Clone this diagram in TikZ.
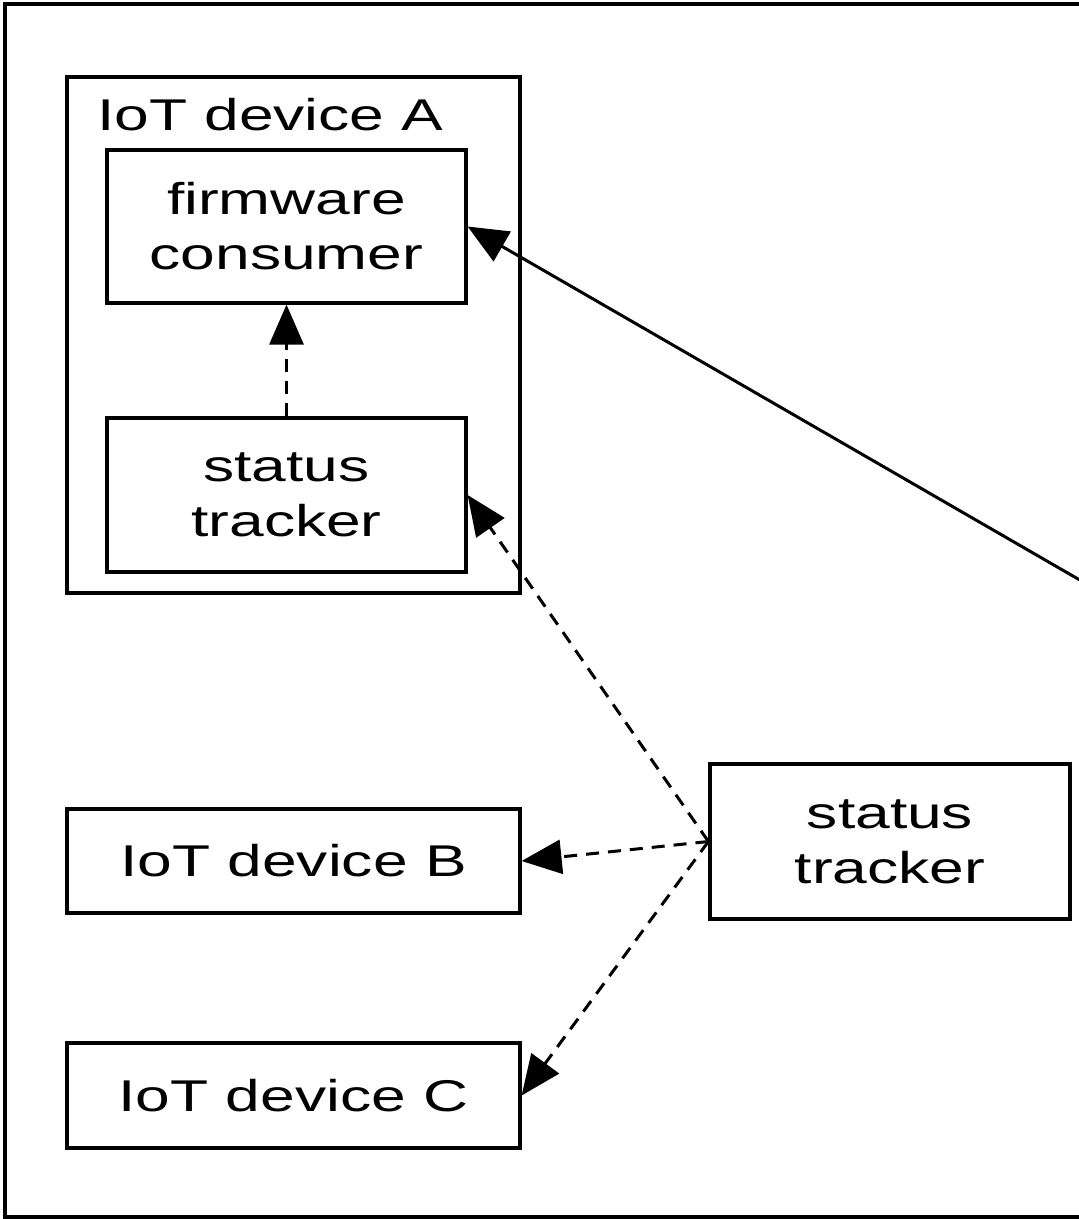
\documentclass[tikz,border=0pt]{standalone}
\usepackage{fontspec}
\setmainfont[FakeStretch=1.4]{Liberation Sans}
\usetikzlibrary{arrows.meta}
\begin{document}
\begin{tikzpicture}[x=1pt,y=-1pt,
  box/.style={draw, line width=3.2pt, fill=white, inner sep=0pt, align=center,
    font=\fontsize{44.5}{55}\selectfont},
  lbl/.style={inner sep=0pt, font=\fontsize{44.5}{55}\selectfont},
  conn/.style={line width=3pt},
  dconn/.style={line width=3pt, dash pattern=on 13pt off 9pt},
  tip/.style={-{Triangle[length=40pt,width=34pt]}}]
  \useasboundingbox (0,0) rectangle (1079,1219);
  \clip (0,0) rectangle (1079,1219);
  % outer frame (continues beyond the right edge)
  \draw[line width=3.4pt] (5,4) rectangle (1400,1217);
  % IoT device A container
  \node[box, minimum width=453pt, minimum height=516pt] (devA) at (293.5,335) {};
  \node[lbl, anchor=base west] (devAlabel) at (97,130) {IoT device A};
  \node[box, minimum width=359pt, minimum height=153pt] (fc) at (286.5,226.5) {firmware\\consumer};
  \node[box, minimum width=359pt, minimum height=154pt] (st1) at (286.5,495) {status\\tracker};
  % other devices
  \node[box, minimum width=453pt, minimum height=104pt] (devB) at (293.5,861) {IoT device B};
  \node[box, minimum width=453pt, minimum height=105pt] (devC) at (293.5,1095.5) {IoT device C};
  % central status tracker
  \node[box, minimum width=360pt, minimum height=155pt] (st2) at (890,841.5) {status\\tracker};
  % off-picture source of the solid connector
  \coordinate (src) at (1253,680);
  % connectors
  \draw[conn, tip] (src) -- (fc.east);
  \draw[dconn, tip] (st1.north) -- (fc.south);
  \draw[dconn, tip] (st2.west) -- (st1.east);
  \draw[dconn, tip] (st2.west) -- (devB.east);
  \draw[dconn, tip] (st2.west) -- (devC.east);
\end{tikzpicture}
\end{document}
